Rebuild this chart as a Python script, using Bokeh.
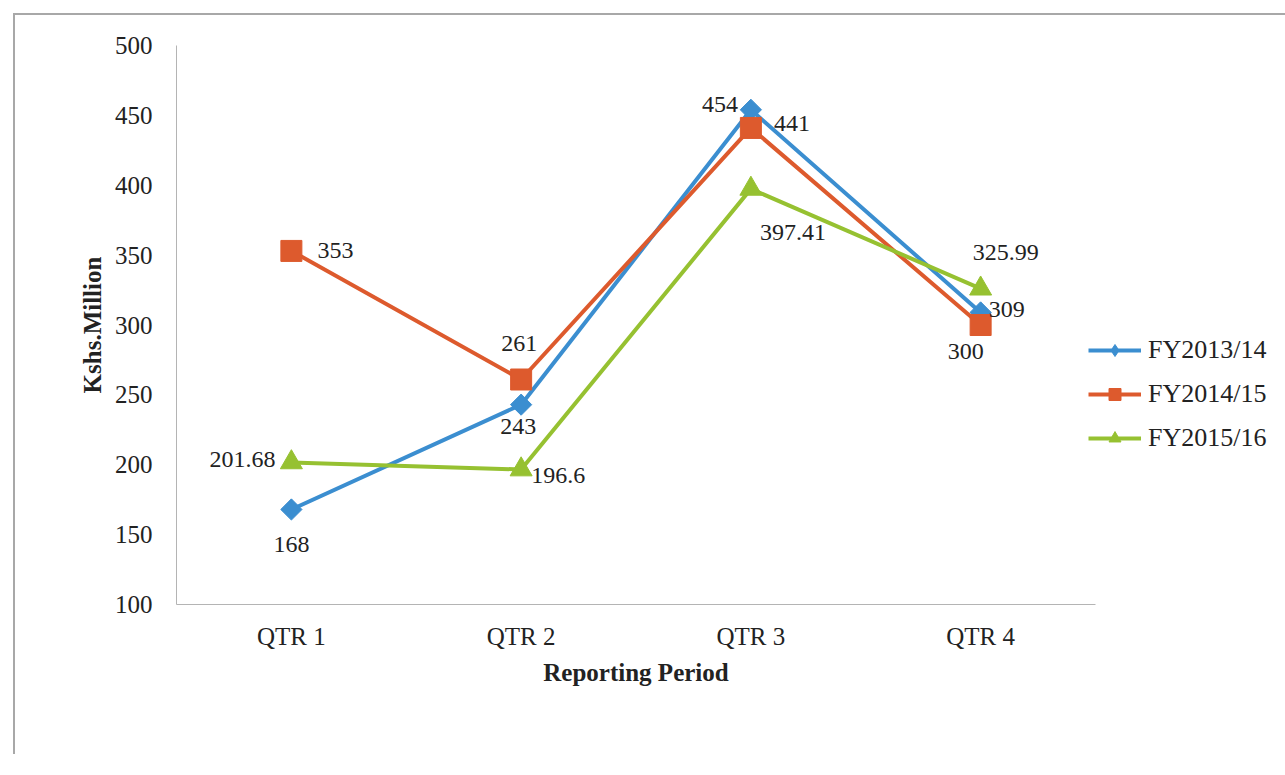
from bokeh.plotting import figure
from bokeh.models import ColumnDataSource, Legend, LegendItem, FactorRange, Range1d, FixedTicker
from bokeh.core.properties import value
from bokeh.embed import file_html
from bokeh.resources import INLINE
import math

# ---- data ----
quarters = ["QTR 1", "QTR 2", "QTR 3", "QTR 4"]
series_names = ["FY2013/14", "FY2014/15", "FY2015/16"]
fy2013_14 = [168, 243, 454, 309]
fy2014_15 = [353, 261, 441, 300]
fy2015_16 = [201.68, 196.6, 397.41, 325.99]
label_2013_14 = ["168", "243", "454", "309"]
label_2014_15 = ["353", "261", "441", "300"]
label_2015_16 = ["201.68", "196.6", "397.41", "325.99"]
y_ticks = [100, 150, 200, 250, 300, 350, 400, 450, 500]

# ---- styles ----
colors = ["#3B8ED0", "#DD5A2D", "#96C131"]
markers = ["square", "square", "triangle"]
legend_markers = ["diamond", "square", "triangle"]
marker_sizes = [15, 21, 22]
marker_angles = [math.pi / 4, 0, 0]
# label offsets (screen px) and alignment per point
offsets = [
    dict(dx=[0, -3, -13, 8], dy=[35, 22, -5, -3], align=["center", "center", "right", "left"]),
    dict(dx=[26, -2, 23, -15], dy=[0, -36, -4, 26], align=["left", "center", "left", "center"]),
    dict(dx=[-16, 10, 42, 25], dy=[-3, 6, 44, -36], align=["right", "left", "center", "center"]),
]
FONT = "Liberation Serif"

p = figure(
    x_range=FactorRange(*quarters, range_padding=0),
    y_range=Range1d(100, 500),
    frame_width=919, frame_height=559,
    min_border_left=161, min_border_right=175, min_border_top=30, min_border_bottom=150,
    output_backend="svg", toolbar_location=None,
)
p.styles = {"margin-left": "13px", "margin-top": "13px",
            "border-left": "2px solid #a8a8a8", "border-top": "2px solid #a8a8a8"}
p.outline_line_color = None
p.xgrid.grid_line_color = None
p.ygrid.grid_line_color = None
p.background_fill_color = "white"
p.border_fill_color = "white"

for ax in (p.xaxis[0], p.yaxis[0]):
    ax.axis_line_color = "#b4b4b4"
    ax.axis_line_width = 1
    ax.major_tick_line_color = None
    ax.minor_tick_line_color = None
    ax.major_label_text_font = FONT
    ax.major_label_text_font_size = "25px"
    ax.major_label_text_color = "#222222"
    ax.axis_label_text_font = FONT
    ax.axis_label_text_font_style = "bold"
    ax.axis_label_text_font_size = "25px"
    ax.axis_label_text_color = "#222222"

p.yaxis.ticker = FixedTicker(ticks=y_ticks)
p.yaxis.major_label_standoff = 18
p.yaxis.axis_label = "Kshs.Million"
p.yaxis.axis_label_standoff = 6
p.xaxis.major_label_standoff = 12
p.xaxis.axis_label = "Reporting Period"
p.xaxis.axis_label_standoff = 6

all_vals = [fy2013_14, fy2014_15, fy2015_16]
all_labels = [label_2013_14, label_2014_15, label_2015_16]
items = []
for i, name in enumerate(series_names):
    src = ColumnDataSource(dict(x=quarters, y=all_vals[i]))
    l = p.line("x", "y", source=src, line_color=colors[i], line_width=4)
    # small key marker (hidden beneath the main marker) so the legend shows the right symbol
    lm = p.scatter("x", "y", source=src, marker=legend_markers[i], size=8,
                   fill_color=colors[i], line_color=colors[i])
    p.scatter("x", "y", source=src, marker=markers[i], size=marker_sizes[i],
              angle=marker_angles[i], fill_color=colors[i], line_color=colors[i])
    items.append(LegendItem(label=name, renderers=[l, lm]))

for i in range(3):
    src = ColumnDataSource(dict(x=quarters, y=all_vals[i], t=all_labels[i],
                                dx=offsets[i]["dx"], dy=offsets[i]["dy"], al=offsets[i]["align"]))
    p.text("x", "y", text="t", source=src, x_offset="dx", y_offset="dy", text_align="al",
           text_baseline="middle", text_font=value(FONT), text_font_size="24px",
           text_color="#222222")

legend = Legend(items=items, location=(-7, 151), orientation="vertical",
                glyph_width=53, glyph_height=30, label_height=30, spacing=14,
                label_standoff=7, padding=0, margin=0,
                border_line_color=None, background_fill_alpha=0,
                label_text_font=FONT, label_text_font_size="26px", label_text_color="#222222")
p.add_layout(legend, "right")

open("out.html", "w").write(file_html(p, INLINE))
